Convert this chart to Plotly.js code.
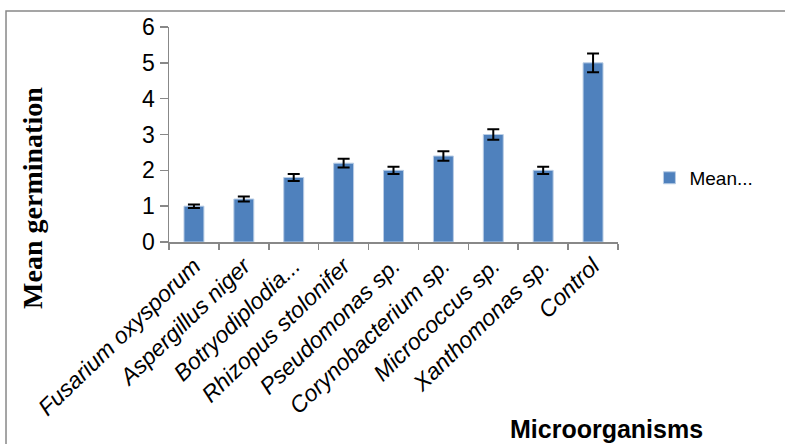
<!DOCTYPE html>
<html>
<head>
<meta charset="utf-8">
<script src="https://cdn.plot.ly/plotly-3.0.1.min.js"></script>
<style>html,body{margin:0;padding:0;background:#fff;}#chart{width:785px;height:444px;}</style>
</head>
<body>
<div id="chart"></div>
<script>
const categories = ["Fusarium oxysporum", "Aspergillus niger", "Botryodiplodia...", "Rhizopus stolonifer", "Pseudomonas sp.", "Corynobacterium sp.", "Micrococcus sp.", "Xanthomonas sp.", "Control"];
const meanValues = [1.0, 1.2, 1.8, 2.2, 2.0, 2.4, 3.0, 2.0, 5.0];
const errorValues = [0.05, 0.07, 0.1, 0.12, 0.1, 0.13, 0.15, 0.1, 0.26];
const seriesName = "Mean...";
const yTicks = [0, 1, 2, 3, 4, 5, 6];

const trace = {
  type: "bar",
  x: categories,
  y: meanValues,
  name: seriesName,
  marker: {color: "#4F81BD", line: {color: "#B9CDE5", width: 1}},
  error_y: {type: "data", array: errorValues, visible: true, color: "#000", thickness: 2, width: 6},
  showlegend: true
};

const layout = {
  width: 785, height: 444,
  margin: {l: 169, r: 167, t: 27, b: 202, pad: 0},
  paper_bgcolor: "#fff", plot_bgcolor: "#fff",
  bargap: 0.6,
  font: {family: "Liberation Sans, Arial, sans-serif", color: "#000"},
  xaxis: {
    type: "category",
    automargin: false,
    tickvals: categories,
    ticktext: categories.map(c => "<i>" + c + "</i>"),
    showline: true, linecolor: "#888", linewidth: 1.5,
    ticks: "outside", tickson: "boundaries", ticklen: 6, tickcolor: "#888", tickwidth: 1.5,
    tickangle: -44,
    tickfont: {family: "Liberation Sans, Arial, sans-serif", size: 23, color: "#000"},
    showgrid: false
  },
  yaxis: {
    range: [0, 6],
    tickvals: yTicks,
    automargin: false,
    showline: true, linecolor: "#888", linewidth: 1.5,
    ticks: "outside", ticklen: 8, tickcolor: "#888", tickwidth: 1.5,
    tickfont: {family: "Liberation Sans, Arial, sans-serif", size: 23, color: "#000"},
    showgrid: false, zeroline: false
  },
  legend: {
    x: 1.07, y: 0.298, xanchor: "left", yanchor: "middle",
    font: {family: "Liberation Sans, Arial, sans-serif", size: 19, color: "#000"},
    bgcolor: "rgba(0,0,0,0)"
  },
  shapes: [{
    type: "rect", xref: "paper", yref: "paper",
    x0: -0.363, x1: 1.6, y0: -1.5, y1: 1.0744,
    line: {color: "#888", width: 1.5}, fillcolor: "rgba(0,0,0,0)", layer: "below"
  }],
  annotations: [
    {text: "Mean germination", xref: "paper", yref: "paper", x: -0.303, y: 0.205,
     xanchor: "center", yanchor: "middle", textangle: -90, showarrow: false,
     font: {family: "Liberation Serif, Times New Roman, serif", size: 28, color: "#000", weight: "bold"}},
    {text: "Microorganisms", xref: "paper", yref: "paper", x: 0.9755, y: -0.87,
     xanchor: "center", yanchor: "middle", showarrow: false,
     font: {family: "Liberation Sans, Arial, sans-serif", size: 25, color: "#000", weight: "bold"}}
  ]
};

Plotly.newPlot("chart", [trace], layout, {displayModeBar: false, staticPlot: true});
</script>
</body>
</html>
